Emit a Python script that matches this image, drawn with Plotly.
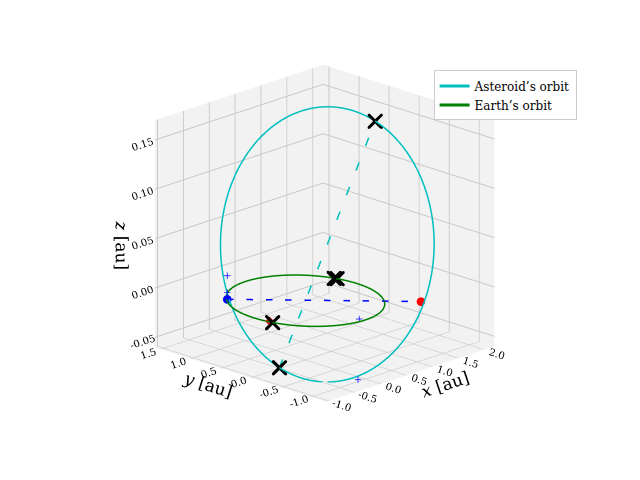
import numpy as np
import plotly.graph_objects as go

# asteroid orbit: perihelion point, aphelion distance, node direction
peri = np.array([-0.77, -0.23, -0.05])
r_aph = 2.16
node_dir = np.array([-0.707, 0.707, 0.0])
earth_r = 1.0

# marked points
asc_node = [-0.70, 0.70, 0.0]
desc_node = [1.07, -1.00, 0.0]
earth_x = [0.94, 0.96, -0.96]
earth_y = [0.33, 0.30, -0.28]
earth_z = [0.0, 0.0, 0.0]
tri_pt = [-0.95, -0.22, 0.0]
plus_x = [-0.70, -0.70, -0.03, -0.38]
plus_y = [0.70, 0.70, -0.92, -1.20]
plus_z = [0.024, 0.007, 0.0, -0.05]

xticks = [-1.0, -0.5, 0.0, 0.5, 1.0, 1.5, 2.0]
yticks = [-1.0, -0.5, 0.0, 0.5, 1.0, 1.5]
zticks = [-0.05, 0.0, 0.05, 0.10, 0.15]

r_per = np.linalg.norm(peri)
P = peri / r_per
Q = node_dir - node_dir.dot(P) * P
Q = Q / np.linalg.norm(Q)
a = (r_per + r_aph) / 2
e = (r_aph - r_per) / (r_aph + r_per)
nu = np.linspace(0, 2 * np.pi, 400)
r = a * (1 - e ** 2) / (1 + e * np.cos(nu))
orb = np.outer(r * np.cos(nu), P) + np.outer(r * np.sin(nu), Q)
aph = -P * r_aph
ex = earth_r * np.cos(nu)
ey = earth_r * np.sin(nu)

cyan = "#00bfbf"
fig = go.Figure()
fig.add_trace(go.Scatter3d(x=orb[:, 0], y=orb[:, 1], z=orb[:, 2], mode="lines",
                           line=dict(color=cyan, width=3), name="Asteroid’s orbit"))
fig.add_trace(go.Scatter3d(x=ex, y=ey, z=0 * ex, mode="lines", line=dict(color="green", width=3), name="Earth’s orbit"))
fig.add_trace(go.Scatter3d(x=[asc_node[0], desc_node[0]], y=[asc_node[1], desc_node[1]], z=[0, 0], mode="lines",
                           line=dict(color="blue", width=3, dash="longdash"), showlegend=False))
fig.add_trace(go.Scatter3d(x=[peri[0], aph[0]], y=[peri[1], aph[1]], z=[peri[2], aph[2]], mode="lines",
                           line=dict(color=cyan, width=3, dash="longdash"), showlegend=False))
fig.add_trace(go.Scatter3d(x=[asc_node[0]], y=[asc_node[1]], z=[0], mode="markers",
                           marker=dict(color="blue", size=5), showlegend=False))
fig.add_trace(go.Scatter3d(x=[desc_node[0]], y=[desc_node[1]], z=[0], mode="markers",
                           marker=dict(color="red", size=5), showlegend=False))
fig.add_trace(go.Scatter3d(x=[tri_pt[0]], y=[tri_pt[1]], z=[tri_pt[2]], mode="markers",
                           marker=dict(color="red", symbol="diamond", size=3), showlegend=False))
fig.add_trace(go.Scatter3d(x=earth_x + [peri[0], aph[0]], y=earth_y + [peri[1], aph[1]], z=earth_z + [peri[2], aph[2]],
                           mode="markers", marker=dict(color="black", symbol="x", size=3.5), showlegend=False))
fig.add_trace(go.Scatter3d(x=plus_x, y=plus_y, z=plus_z, mode="markers",
                           marker=dict(color="blue", symbol="cross", size=3.5), showlegend=False))

axstyle = dict(backgroundcolor="#f2f2f2", gridcolor="#c8c8c8", showbackground=True, zeroline=False,
               tickfont=dict(size=11, family="DejaVu Serif"))
fig.update_layout(
    width=640, height=480, paper_bgcolor="white", font=dict(family="DejaVu Serif", color="black"),
    margin=dict(l=0, r=0, t=0, b=0),
    legend=dict(x=0.665, y=0.87, bordercolor="#cccccc", borderwidth=1, font=dict(size=12)),
    scene=dict(
        xaxis=dict(axstyle, title=dict(text="<i>x</i> [au]", font=dict(size=17)), range=[-1.05, 2.2],
                   tickvals=xticks, ticktext=[f"{v:.1f}" for v in xticks]),
        yaxis=dict(axstyle, title=dict(text="<i>y</i> [au]", font=dict(size=17)), range=[-1.25, 1.6],
                   tickvals=yticks, ticktext=[f"{v:.1f}" for v in yticks]),
        zaxis=dict(axstyle, title=dict(text="<i>z</i> [au]", font=dict(size=17)), range=[-0.06, 0.17],
                   tickvals=zticks, ticktext=[f"{v:.2f}" for v in zticks]),
        aspectmode="cube",
        camera=dict(eye=dict(x=-1.04, y=-1.04, z=0.44), center=dict(x=0.02, y=0, z=-0.07),
                    projection=dict(type="orthographic")),
    ),
)
fig.write_html("out.html")
